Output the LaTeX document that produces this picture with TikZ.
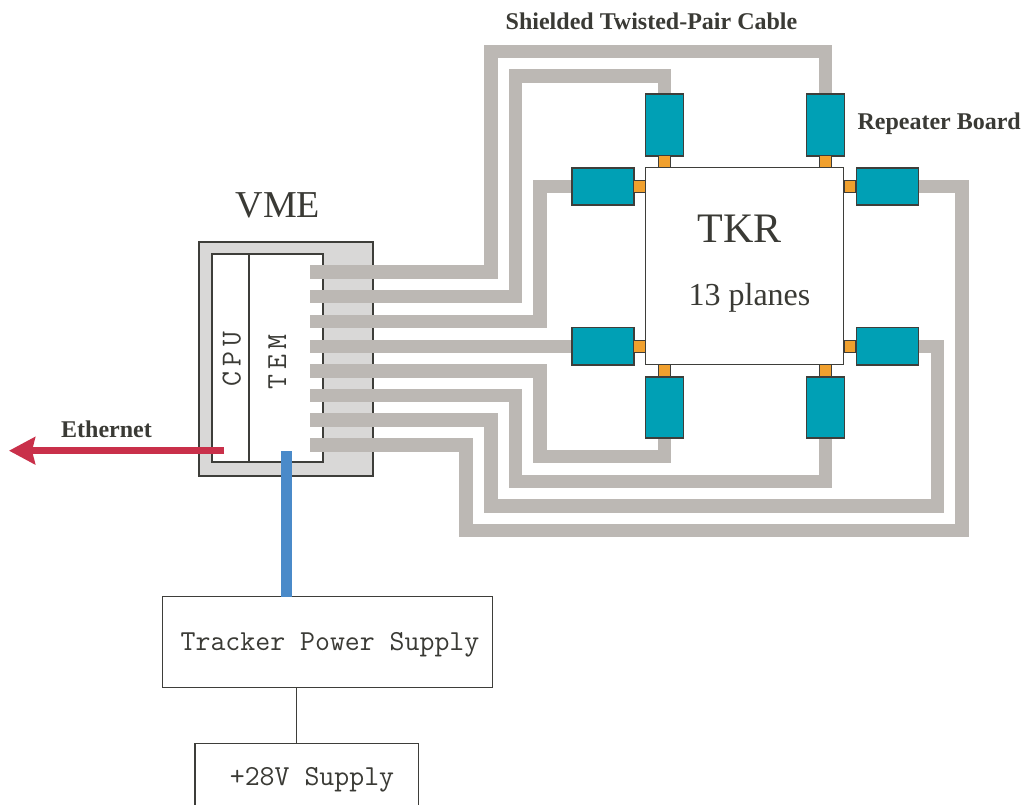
\documentclass[tikz,border=0pt]{standalone}
\usepackage{fontspec}
\setmainfont{Liberation Serif}
\usetikzlibrary{arrows.meta}
\definecolor{cablegray}{HTML}{BCB8B4}
\definecolor{vmegray}{HTML}{D9D8D7}
\definecolor{repteal}{HTML}{00A0B5}
\definecolor{connorange}{HTML}{F0A02E}
\definecolor{edgecol}{HTML}{3E3E3A}
\definecolor{txtcol}{HTML}{3A3A35}
\definecolor{ethred}{HTML}{C9304A}
\definecolor{pwrblue}{HTML}{4A8AC9}
\pgfdeclarelayer{bglayer}
\pgfdeclarelayer{bottomlayer}
\pgfdeclarelayer{cablelayer}
\pgfsetlayers{bglayer,bottomlayer,cablelayer,main}
\tikzset{
  box/.style={rectangle, draw=edgecol, line width=1.5pt, inner sep=0pt, outer sep=0pt},
  repeater/.style={box, fill=repteal, line width=1.8pt},
  hrep/.style={repeater, minimum width=62pt, minimum height=37.5pt},
  vrep/.style={repeater, minimum width=38pt, minimum height=61.5pt},
  conn/.style={rectangle, draw=edgecol, line width=1.2pt, fill=connorange, minimum width=12pt, minimum height=12pt, inner sep=0pt, outer sep=0pt},
  cable/.style={draw=cablegray, line width=13.5pt, line join=miter, line cap=butt},
  lbl/.style={text=txtcol, font=\fontsize{24}{24}\selectfont\bfseries},
  monotxt/.style={text=txtcol, font=\ttfamily\fontsize{29}{29}\selectfont},
  vertmono/.style={text=txtcol, font=\ttfamily\fontsize{29}{29}\selectfont, rotate=90},
  ethline/.style={draw=ethred, line width=7pt, -{Stealth[length=26pt,width=27pt,inset=3pt]}},
  pwrline/.style={draw=pwrblue, line width=11pt, line cap=butt},
  thinline/.style={draw=edgecol, line width=1.5pt}
}
\begin{document}
\begin{tikzpicture}[x=1pt,y=-1pt]
\begin{pgfonlayer}{bglayer}
\fill[white] (0,0) rectangle (1028,804);
\end{pgfonlayer}
\useasboundingbox (0,0) rectangle (1028,804);

% VME crate
\begin{pgfonlayer}{bottomlayer}
\node[box, fill=vmegray, minimum width=174pt, minimum height=234pt] (vme) at (286,359) {};
\node[box, fill=white, minimum width=37pt, minimum height=208pt] (cpu) at (230.5,358) {};
\node[box, fill=white, minimum width=74pt, minimum height=208pt] (tem) at (286,358) {};
\node[vertmono] (cputxt) at (231.7,359) {C\kern5pt P\kern5pt U};
\node[vertmono] (temtxt) at (277.3,361.7) {T\kern5pt E\kern5pt M};
\end{pgfonlayer}
\node[anchor=base, text=txtcol, font=\fontsize{38}{38}\selectfont] (vmetxt) at (278,217) {VME};

% cable start points
\coordinate (c1) at (310,272);
\coordinate (c2) at (310,296.7);
\coordinate (c3) at (310,321.4);
\coordinate (c4) at (310,346.3);
\coordinate (c5) at (310,370.8);
\coordinate (c6) at (310,395.5);
\coordinate (c7) at (310,420.2);
\coordinate (c8) at (310,444.9);

% TKR and repeaters
\node[box, fill=white, minimum width=197.8pt, minimum height=196.6pt] (tkr) at (744.6,266) {};
\node[anchor=base, text=txtcol, font=\fontsize{42}{42}\selectfont] (tkrtxt) at (739.7,242.3) {TKR};
\node[anchor=base, text=txtcol, font=\fontsize{32}{32}\selectfont] (planestxt) at (749.5,305) {13 planes};

\node[hrep] (rL1) at (602.85,186.5) {};
\node[hrep] (rL2) at (602.85,346.3) {};
\node[hrep] (rR1) at (887.5,186.5) {};
\node[hrep] (rR2) at (887.5,346.3) {};
\node[vrep] (rT1) at (664.4,125) {};
\node[vrep] (rT2) at (825.5,125) {};
\node[vrep] (rB1) at (664.4,407.5) {};
\node[vrep] (rB2) at (825.5,407.5) {};

\node[conn] (oT1) at (664.4,161.7) {};
\node[conn] (oT2) at (825.5,161.7) {};
\node[conn] (oB1) at (664.4,370.5) {};
\node[conn] (oB2) at (825.5,370.5) {};
\node[conn] (oL1) at (639.7,186.5) {};
\node[conn] (oL2) at (639.7,346.3) {};
\node[conn] (oR1) at (850,186.5) {};
\node[conn] (oR2) at (850,346.3) {};

% cables
\begin{pgfonlayer}{cablelayer}
\draw[cable] (c1) -| (491,51.3) -| (rT2.north);
\draw[cable] (c2) -| (515.5,75.8) -| (rT1.north);
\draw[cable] (c3) -| (540,186.5) -- (rL1.west);
\draw[cable] (c4) -- (rL2.west);
\draw[cable] (c5) -| (540,456.7) -| (rB1.south);
\draw[cable] (c6) -| (515.5,481.3) -| (rB2.south);
\draw[cable] (c7) -| (491,506) -| (937.3,346.3) -- (rR2.east);
\draw[cable] (c8) -| (466,530.3) -| (962,186.5) -- (rR1.east);
\end{pgfonlayer}

% labels
\node[lbl, anchor=base] (cabletxt) at (651.5,29) {Shielded Twisted-Pair Cable};
\node[lbl, anchor=base west] (reptxt) at (854,129.5) {Repeater Board};
\node[lbl, anchor=base] (ethtxt) at (106.5,437) {Ethernet};

% ethernet arrow
\coordinate (ethstart) at (224,450.7);
\coordinate (ethend) at (9,450.7);
\draw[ethline] (ethstart) -- (ethend);

% power
\node[box, fill=white, minimum width=330.4pt, minimum height=91pt] (tps) at (327.5,642.2) {};
\node[monotxt, anchor=base] (tpstxt) at (330,650) {Tracker Power Supply};
\node[box, fill=white, minimum width=223.3pt, minimum height=80pt] (sup) at (306.65,783.3) {};
\node[monotxt, anchor=base] (suptxt) at (312,785) {+28V Supply};
\coordinate (pwrin) at (286.5,451);
\draw[pwrline] (pwrin) -- (pwrin |- tps.north);
\coordinate (lnx) at (296.7,700);
\draw[thinline] (tps.south -| lnx) -- (sup.north -| lnx);
\end{tikzpicture}
\end{document}
